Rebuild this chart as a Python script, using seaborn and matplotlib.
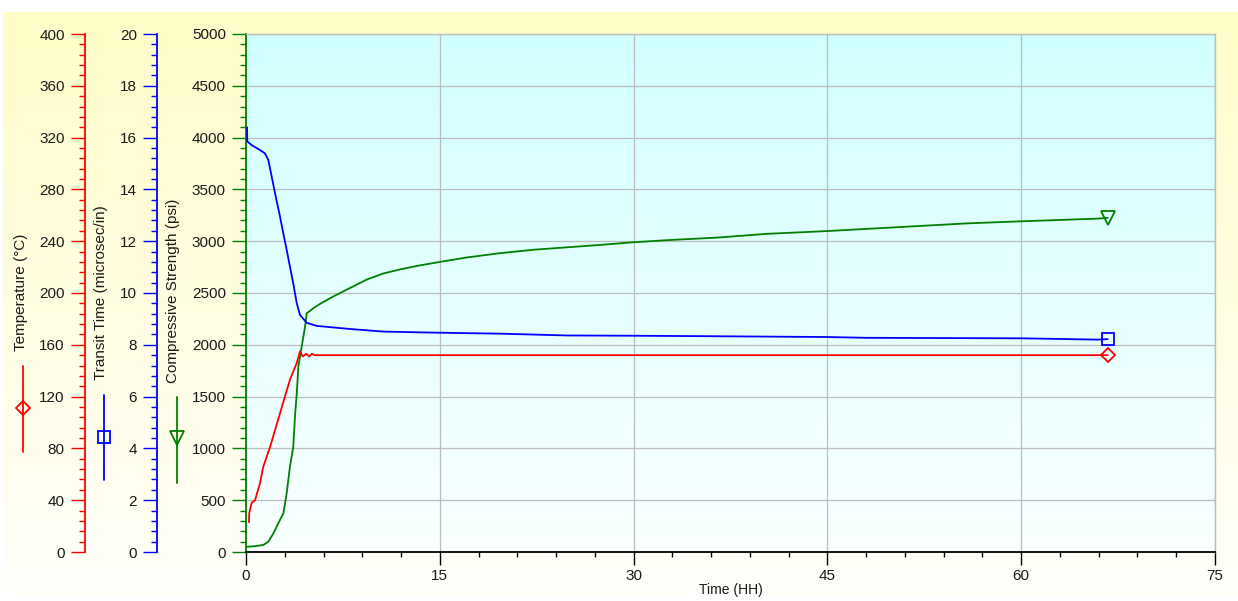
import numpy as np
import matplotlib
matplotlib.use("Agg")
import matplotlib.pyplot as plt
from matplotlib.lines import Line2D
from matplotlib.ticker import MultipleLocator
import seaborn as sns

# ---------------- data ----------------
temp_time = [0.23, 0.25, 0.44, 0.70, 1.08, 1.34, 1.86, 2.63, 3.40, 3.93, 4.18,
             4.39, 4.65, 4.90, 5.09, 5.35, 10.0, 20.0, 30.0, 40.0, 50.0, 60.0, 66.7]
temperature = [23, 30, 38, 40, 53, 66, 81, 107, 133, 146, 155,
               151, 153, 151, 153, 152, 152, 152, 152, 152, 152, 152, 152]

tt_time = [0.08, 0.10, 0.44, 1.08, 1.47, 1.73, 1.99, 2.25, 2.63, 2.89, 3.15, 3.40,
           3.66, 3.79, 3.93, 4.18, 4.70, 5.47, 6.76, 8.06, 10.64, 14.5, 19.7,
           24.85, 30.0, 36.5, 45.0, 48.0, 60.0, 65.9, 66.7]
transit = [16.4, 15.85, 15.71, 15.52, 15.39, 15.13, 14.49, 13.85, 12.95, 12.30, 11.66, 11.02,
           10.37, 9.99, 9.60, 9.15, 8.85, 8.73, 8.67, 8.61, 8.51, 8.47, 8.43,
           8.36, 8.35, 8.33, 8.30, 8.27, 8.25, 8.20, 8.22]

cs_time = [0.05, 0.60, 1.34, 1.73, 2.12, 2.50, 2.89, 3.15, 3.40, 3.66, 3.79, 3.93,
           4.05, 4.31, 4.57, 4.70, 5.21, 5.73, 6.76, 8.06, 9.35, 10.64, 11.93,
           13.22, 15.0, 17.1, 19.7, 22.3, 24.85, 27.4, 30.0, 32.6, 36.5, 40.3,
           45.0, 50.7, 55.8, 60.0, 65.9, 66.7]
strength = [50, 55, 68, 100, 180, 277, 373, 567, 823, 1016, 1306, 1532,
            1789, 1982, 2175, 2304, 2353, 2395, 2467, 2549, 2630, 2689, 2728,
            2761, 2800, 2843, 2885, 2918, 2941, 2964, 2990, 3010, 3035, 3071,
            3098, 3137, 3172, 3192, 3218, 3225]

x_ticks = [0, 15, 30, 45, 60, 75]
temp_label = "Temperature (°C)"
tt_label = "Transit Time (microsec/in)"
cs_label = "Compressive Strength (psi)"
x_label = "Time (HH)"

# ---------------- style ----------------
sns.set_style("white")
plt.rcParams['font.family'] = ['Liberation Sans', 'DejaVu Sans']
FS = 11
TXT = "#1a1a1a"

W, H = 1238, 601
fig = plt.figure(figsize=(W / 100, H / 100), dpi=100, facecolor="white")

def fx(px):
    return px / W

def fy(py):
    return 1 - py / H

# panel background (yellow gradient)
panel = fig.add_axes([fx(3), fy(595), fx(1238) - fx(3), fy(12) - fy(595)], zorder=-5)
g = np.linspace(0, 1, 256)[:, None]
top = np.array([255, 253, 200]) / 255
bot = np.array([255, 255, 250]) / 255
img = top[None, None, :] * (1 - g[..., None]) + bot[None, None, :] * g[..., None]
panel.imshow(img, aspect="auto", extent=[0, 1, 0, 1], origin="upper")
panel.axis("off")

# plot area
L, R, T, B = 246, 1215, 34, 552
pos = [fx(L), fy(B), fx(R) - fx(L), fy(T) - fy(B)]
bg = fig.add_axes(pos, zorder=-1)
top2 = np.array([208, 255, 255]) / 255
bot2 = np.array([250, 255, 255]) / 255
img2 = top2[None, None, :] * (1 - g[..., None]) + bot2[None, None, :] * g[..., None]
bg.imshow(img2, aspect="auto", extent=[0, 1, 0, 1], origin="upper")
bg.axis("off")

ax = fig.add_axes(pos)
ax.patch.set_alpha(0)
ax_t = ax.twinx()
ax_tt = ax.twinx()

GREEN = "#008000"
RED = "#ff0000"
BLUE = "#0000ff"
GRID = "#bcbcbc"

# lines
sns.lineplot(x=cs_time, y=strength, ax=ax, color=GREEN, linewidth=1.3,
             estimator=None, sort=False)
sns.lineplot(x=temp_time, y=temperature, ax=ax_t, color=RED, linewidth=1.3,
             estimator=None, sort=False)
sns.lineplot(x=tt_time, y=transit, ax=ax_tt, color=BLUE, linewidth=1.3,
             estimator=None, sort=False)

# end markers
ax.plot(cs_time[-1], strength[-1], marker="v", ms=10, mfc="none", mec=GREEN, mew=1.3,
        clip_on=False)
ax_t.plot(temp_time[-1], temperature[-1], marker="D", ms=7.5, mfc="none", mec=RED, mew=1.3,
          clip_on=False)
ax_tt.plot(tt_time[-1], transit[-1], marker="s", ms=8.5, mfc="none", mec=BLUE, mew=1.3,
           clip_on=False)

# main axis
ax.set_xlim(0, 75)
ax.set_ylim(0, 5000)
ax.xaxis.set_major_locator(MultipleLocator(15))
ax.xaxis.set_minor_locator(MultipleLocator(3))
ax.yaxis.set_major_locator(MultipleLocator(500))
ax.yaxis.set_minor_locator(MultipleLocator(100))
ax.grid(True, which="major", color=GRID, linewidth=0.9)
ax.set_axisbelow(True)
for s in ["top", "right"]:
    ax.spines[s].set_color(GRID)
    ax.spines[s].set_linewidth(1)
ax.spines["left"].set_color(GREEN)
ax.spines["left"].set_linewidth(1.3)
ax.spines["bottom"].set_color("black")
ax.spines["bottom"].set_linewidth(1.3)
ax.tick_params(axis="x", which="major", direction="out", length=9.4, width=1.0,
               color="black", labelsize=FS, labelcolor=TXT, pad=3, bottom=True)
ax.tick_params(axis="x", which="minor", direction="out", length=3.6, width=1.0,
               color="black", bottom=True)
ax.tick_params(axis="y", which="major", direction="out", length=10, width=1.0,
               color=GREEN, labelsize=FS, labelcolor=TXT, pad=4.5, left=True)
ax.tick_params(axis="y", which="minor", direction="out", length=4.3, width=1.0,
               color=GREEN, left=True)
ax.set_xticks(x_ticks)
ax.set_xlabel(x_label, fontsize=10, labelpad=0, color=TXT)
ax.set_ylabel(cs_label, fontsize=FS, color=TXT)
ax.yaxis.set_label_coords((180 - L) / (R - L), (B - 291) / (B - T))

def setup_side(a, lo, hi, major, minor, color, xpx, label, lx, ly):
    a.set_ylim(lo, hi)
    a.yaxis.set_major_locator(MultipleLocator(major))
    a.yaxis.set_minor_locator(MultipleLocator(minor))
    a.yaxis.tick_left()
    a.yaxis.set_label_position("left")
    for s in ["top", "right", "bottom"]:
        a.spines[s].set_visible(False)
    a.spines["left"].set_visible(True)
    a.spines["left"].set_position(("axes", (xpx - L) / (R - L)))
    a.spines["left"].set_color(color)
    a.spines["left"].set_linewidth(1.3)
    a.tick_params(axis="y", which="major", direction="out", length=10, width=1.0,
                  color=color, labelsize=FS, labelcolor=TXT, pad=4.5, left=True, right=False)
    a.tick_params(axis="y", which="minor", direction="out", length=4.3, width=1.0,
                  color=color, left=True, right=False)
    a.set_ylabel(label, fontsize=FS, color=TXT)
    a.yaxis.set_label_coords((lx - L) / (R - L), (B - ly) / (B - T))
    a.grid(False)
    a.set_xlim(0, 75)

setup_side(ax_t, 0, 400, 40, 8, RED, 85, temp_label, 28, 292)
setup_side(ax_tt, 0, 20, 2, 0.4, BLUE, 157, tt_label, 108, 293)

# legend symbols in the left margin
for x, y0, y1, ym, c, m, ms in [(23, 366, 452, 408, RED, "D", 7),
                                 (104, 395, 480, 437, BLUE, "s", 8.5),
                                 (177, 397, 483, 438, GREEN, "v", 10)]:
    fig.add_artist(Line2D([fx(x), fx(x)], [fy(y0), fy(y1)], color=c, lw=1.3,
                          transform=fig.transFigure))
    fig.add_artist(Line2D([fx(x)], [fy(ym)], marker=m, ms=ms, mfc="none", mec=c, mew=1.3,
                          transform=fig.transFigure))

fig.savefig("out.png", dpi=100, facecolor="white")
